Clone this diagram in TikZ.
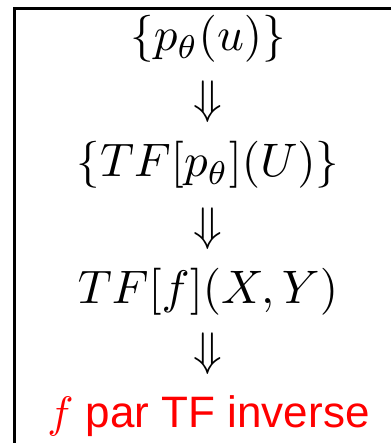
\documentclass[tikz,border=0pt]{standalone}
\usepackage{fontspec}
\newfontfamily\arialfont{Liberation Sans}
\begin{document}
\begin{tikzpicture}[x=1pt,y=-1pt,
  mathrow/.style={anchor=base,inner sep=0pt,scale=4.7,transform shape},
  redrow/.style={anchor=base,inner sep=0pt,text=red,scale=4.4,transform shape,font=\arialfont},
  frame/.style={line width=2.5pt}]
\useasboundingbox (0,0) rectangle (391,443);
\node[mathrow] (r1) at (208,51) {$\{p_\theta(u)\}$};
\node[mathrow] (a1) at (208,114) {$\Downarrow$};
\node[mathrow] (r2) at (208,177) {$\{TF[p_\theta](U)\}$};
\node[mathrow] (a2) at (208,240) {$\Downarrow$};
\node[mathrow] (r3) at (208,303) {$TF[f](X,Y)$};
\node[mathrow] (a3) at (208,365) {$\Downarrow$};
\node[redrow] (r4) at (208.5,427) {$f$ par TF inverse};
\coordinate (tl) at (14.5,8.5);
\coordinate (tr) at (391,8.5);
\coordinate (bl) at (14.5,443);
\draw[frame] (tr) -- (tl) -- (bl);
\end{tikzpicture}
\end{document}
